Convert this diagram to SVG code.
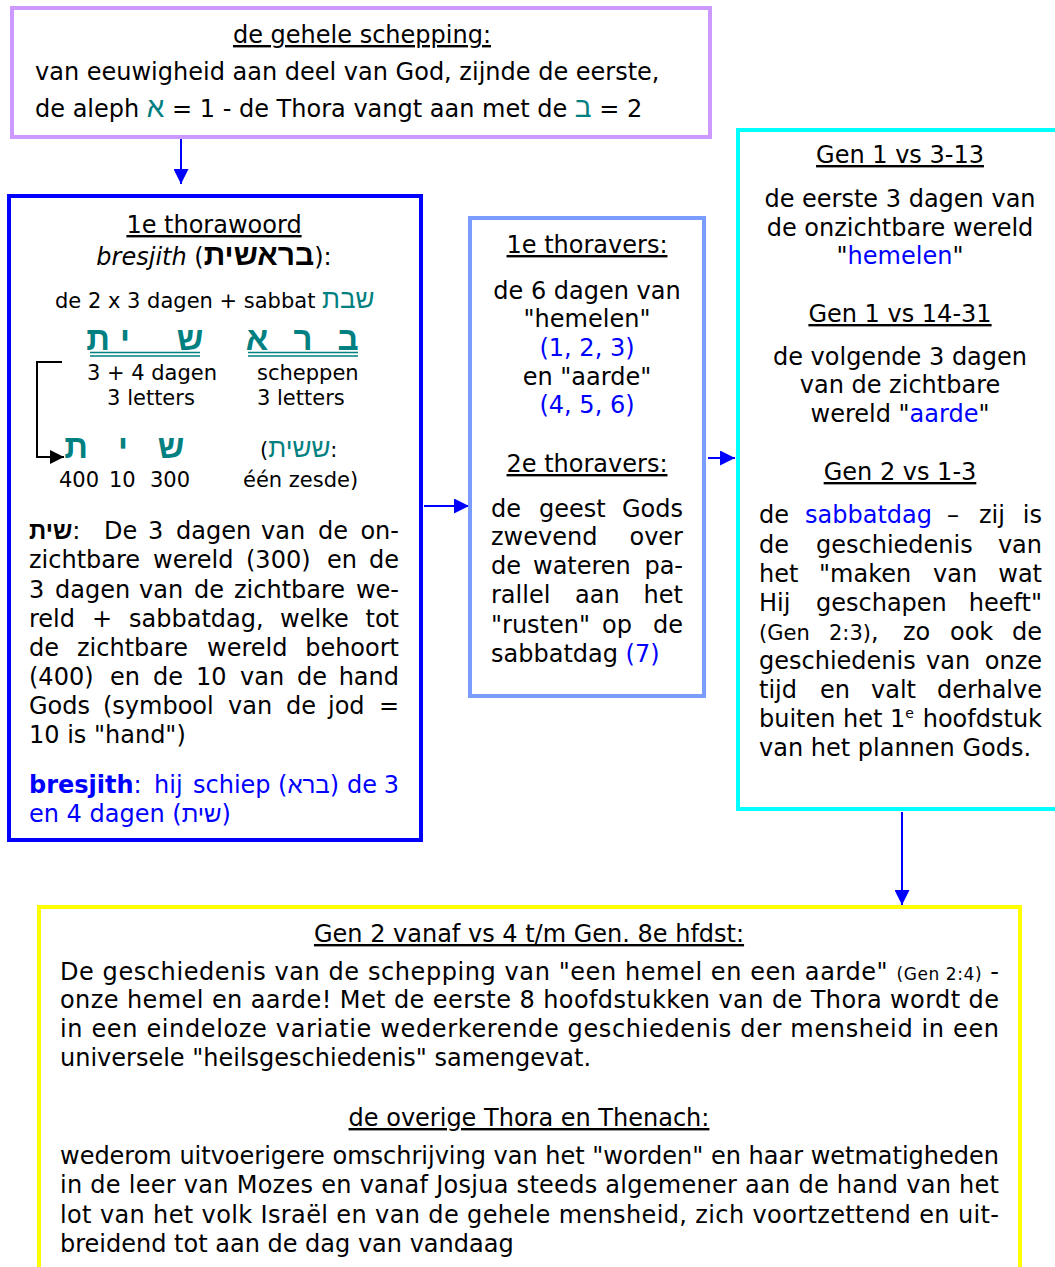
<svg xmlns="http://www.w3.org/2000/svg" width="1055" height="1267" viewBox="0 0 1055 1267">
<defs>
<style>
.t{font-family:"DejaVu Sans",Verdana,sans-serif;font-size:24px;fill:#000}
.s{font-size:21px}
.u{text-decoration:underline}
.b{fill:#0000ff}
.tl{fill:#008080}
.h{font-family:"Liberation Sans","DejaVu Sans",sans-serif}
.c{text-anchor:middle}
.e{text-anchor:end}
.big{font-family:"Liberation Sans","DejaVu Sans",sans-serif;font-size:33px;font-weight:bold;fill:#008080;text-anchor:middle}
.box{fill:#fff;stroke-width:4}
.con{stroke:#0000ff;stroke-width:2;fill:none}
</style>
<marker id="ah" markerUnits="userSpaceOnUse" markerWidth="15" markerHeight="15" refX="15" refY="7.5" orient="auto">
<path d="M0,0 L15,7.5 L0,15 z" fill="#0000ff"/>
</marker>
<marker id="ahk" markerUnits="userSpaceOnUse" markerWidth="14" markerHeight="14" refX="14" refY="7" orient="auto">
<path d="M0,0 L14,7 L0,14 z" fill="#000"/>
</marker>
</defs>
<rect width="1055" height="1267" fill="#fff"/>

<g id="connectors">
<path class="con" d="M181,139 V184" marker-end="url(#ah)"/>
<path class="con" d="M424,506 H469" marker-end="url(#ah)"/>
<path class="con" d="M708,458 H735" marker-end="url(#ah)"/>
<path class="con" d="M902,812 V905" marker-end="url(#ah)"/>
</g>

<g id="node-schepping">
<rect class="box" x="12" y="8" width="698" height="129" stroke="#cc99ff"/>
<text class="t u c" x="362" y="43">de gehele schepping:</text>
<text class="t" x="35" y="80">van eeuwigheid aan deel van God, zijnde de eerste,</text>
<text class="t" x="35" y="117">de aleph <tspan class="tl h" font-size="28">א</tspan>&#x200E; = 1 - de Thora vangt aan met de <tspan class="tl h" font-size="28">ב</tspan>&#x200E; = 2</text>
</g>

<g id="node-thorawoord">
<rect class="box" x="9" y="196" width="412" height="644" stroke="#0000ff"/>
<text class="t u c" x="214" y="233">1e thorawoord</text>
<text class="t c" x="214" y="265" font-size="26"><tspan font-style="italic">bresjith</tspan> (<tspan class="h" font-weight="bold" font-size="30">בראשית</tspan>):</text>
<text class="t s" x="55" y="308">de 2 x 3 dagen + sabbat <tspan class="tl h" font-size="26">שבת</tspan></text>
<text class="t big" x="98" y="350">ת</text>
<text class="t big" x="125" y="350">י</text>
<text class="t big" x="190" y="350">ש</text>
<text class="t big" x="257" y="350">א</text>
<text class="t big" x="303" y="350">ר</text>
<text class="t big" x="348" y="350">ב</text>
<path d="M90,352.5 H200 M90,356 H200 M248,352.5 H358 M248,356 H358" stroke="#008080" stroke-width="1.6" fill="none"/>
<text class="t s c" x="152" y="380">3 + 4 dagen</text>
<text class="t s c" x="151" y="405">3 letters</text>
<text class="t s" x="257" y="380">scheppen</text>
<text class="t s" x="257" y="405">3 letters</text>
<path d="M62,362 H37 V457 H64" stroke="#000" stroke-width="2" fill="none" marker-end="url(#ahk)"/>
<text class="t big" x="76" y="458">ת</text>
<text class="t big" x="123" y="458">י</text>
<text class="t big" x="171" y="458">ש</text>
<text class="t s" x="260" y="457">(<tspan class="tl h" font-size="26">ששית</tspan>:</text>
<text class="t s" x="59" y="487">400</text>
<text class="t s" x="109" y="487">10</text>
<text class="t s" x="150" y="487">300</text>
<text class="t s" x="243" y="487">één zesde)</text>

<text class="t h" x="29" y="539" font-weight="bold" font-size="30">שית<tspan class="t" font-weight="normal">:</tspan></text>
<text class="t" y="539"><tspan x="104">De</tspan><tspan x="148">3</tspan><tspan x="176">dagen</tspan><tspan x="261">van</tspan><tspan x="318">de</tspan></text>
<text class="t e" x="399" y="539">on-</text>
<text class="t" y="568"><tspan x="29">zichtbare</tspan><tspan x="153">wereld</tspan><tspan x="246">(300)</tspan><tspan x="327">en</tspan></text>
<text class="t e" x="399" y="568">de</text>
<text class="t" y="598"><tspan x="29">3</tspan><tspan x="55">dagen</tspan><tspan x="139">van</tspan><tspan x="194">de</tspan><tspan x="234">zichtbare</tspan></text>
<text class="t e" x="399" y="598">we-</text>
<text class="t" y="627"><tspan x="29">reld</tspan><tspan x="92">+</tspan><tspan x="129">sabbatdag,</tspan><tspan x="280">welke</tspan></text>
<text class="t e" x="399" y="627">tot</text>
<text class="t" y="656"><tspan x="29">de</tspan><tspan x="77">zichtbare</tspan><tspan x="207">wereld</tspan></text>
<text class="t e" x="399" y="656">behoort</text>
<text class="t" y="685"><tspan x="29">(400)</tspan><tspan x="110">en</tspan><tspan x="153">de</tspan><tspan x="196">10</tspan><tspan x="240">van</tspan><tspan x="297">de</tspan></text>
<text class="t e" x="399" y="685">hand</text>
<text class="t" y="714"><tspan x="29">Gods</tspan><tspan x="103">(symbool</tspan><tspan x="228">van</tspan><tspan x="286">de</tspan><tspan x="328">jod</tspan></text>
<text class="t e" x="399" y="714">=</text>
<text class="t" x="29" y="743">10 is "hand")</text>

<text class="t b" y="793"><tspan x="29" font-weight="bold">bresjith</tspan><tspan>:</tspan><tspan x="154">hij</tspan><tspan x="193">schiep</tspan></text>
<text class="t b" x="278" y="793">(<tspan class="h" font-size="24">ברא</tspan>)</text>
<text class="t b" x="347" y="793">de</text>
<text class="t b e" x="399" y="793">3</text>
<text class="t b" x="29" y="822">en 4 dagen (<tspan class="h" font-size="24">שית</tspan>)</text>
</g>

<g id="node-thoravers">
<rect class="box" x="470" y="218" width="234" height="478" stroke="#7b9cff"/>
<text class="t u c" x="587" y="253">1e thoravers:</text>
<text class="t c" x="587" y="299">de 6 dagen van</text>
<text class="t c" x="587" y="327">"hemelen"</text>
<text class="t c b" x="587" y="356">(1, 2, 3)</text>
<text class="t c" x="587" y="385">en "aarde"</text>
<text class="t c b" x="587" y="413">(4, 5, 6)</text>
<text class="t u c" x="587" y="472">2e thoravers:</text>
<text class="t" y="517"><tspan x="491">de</tspan><tspan x="539">geest</tspan></text>
<text class="t e" x="683" y="517">Gods</text>
<text class="t" x="491" y="545">zwevend</text>
<text class="t e" x="683" y="545">over</text>
<text class="t" y="574"><tspan x="491">de</tspan><tspan x="533">wateren</tspan></text>
<text class="t e" x="683" y="574">pa-</text>
<text class="t" y="603"><tspan x="491">rallel</tspan><tspan x="575">aan</tspan></text>
<text class="t e" x="683" y="603">het</text>
<text class="t" y="633"><tspan x="491">"rusten"</tspan><tspan x="602">op</tspan></text>
<text class="t e" x="683" y="633">de</text>
<text class="t" x="491" y="662">sabbatdag <tspan class="b">(7)</tspan></text>
</g>

<g id="node-genesis1">
<rect class="box" x="738" y="130" width="330" height="679" stroke="#00ffff"/>
<text class="t u c" x="900" y="163">Gen 1 vs 3-13</text>
<text class="t c" x="900" y="207">de eerste 3 dagen van</text>
<text class="t c" x="900" y="236">de onzichtbare wereld</text>
<text class="t c" x="900" y="264">"<tspan class="b">hemelen</tspan>"</text>
<text class="t u c" x="900" y="322">Gen 1 vs 14-31</text>
<text class="t c" x="900" y="365">de volgende 3 dagen</text>
<text class="t c" x="900" y="393">van de zichtbare</text>
<text class="t c" x="900" y="422">wereld "<tspan class="b">aarde</tspan>"</text>
<text class="t u c" x="900" y="480">Gen 2 vs 1-3</text>
<text class="t" y="523"><tspan x="759">de</tspan><tspan x="805" class="b">sabbatdag</tspan><tspan x="947">–</tspan><tspan x="979">zij</tspan></text>
<text class="t e" x="1042" y="523">is</text>
<text class="t" y="553"><tspan x="759">de</tspan><tspan x="816">geschiedenis</tspan></text>
<text class="t e" x="1042" y="553">van</text>
<text class="t" y="582"><tspan x="759">het</tspan><tspan x="819">"maken</tspan><tspan x="933">van</tspan></text>
<text class="t e" x="1042" y="582">wat</text>
<text class="t" y="611"><tspan x="759">Hij</tspan><tspan x="816">geschapen</tspan></text>
<text class="t e" x="1042" y="611">heeft"</text>
<text class="t" y="640"><tspan x="759" font-size="21">(Gen</tspan><tspan x="829" font-size="21">2:3)</tspan><tspan>,</tspan><tspan x="903">zo</tspan><tspan x="950">ook</tspan></text>
<text class="t e" x="1042" y="640">de</text>
<text class="t" y="669"><tspan x="759">geschiedenis</tspan><tspan x="926">van</tspan></text>
<text class="t e" x="1042" y="669">onze</text>
<text class="t" y="698"><tspan x="759">tijd</tspan><tspan x="820">en</tspan><tspan x="871">valt</tspan></text>
<text class="t e" x="1042" y="698">derhalve</text>
<text class="t" y="727"><tspan x="759">buiten</tspan><tspan x="843">het</tspan><tspan x="890">1</tspan><tspan font-size="14" dy="-9">e</tspan></text>
<text class="t e" x="1042" y="727">hoofdstuk</text>
<text class="t" x="759" y="756">van het plannen Gods.</text>
</g>

<g id="node-geschiedenis">
<rect class="box" x="39" y="907" width="981" height="400" stroke="#ffff00"/>
<text class="t u c" x="529" y="942">Gen 2 vanaf vs 4 t/m Gen. 8e hfdst:</text>
<text class="t" x="60" y="980" textLength="939" lengthAdjust="spacing">De geschiedenis van de schepping van "een hemel en een aarde" <tspan font-size="17">(Gen 2:4)</tspan> -</text>
<text class="t" x="60" y="1008" textLength="939" lengthAdjust="spacing">onze hemel en aarde! Met de eerste 8 hoofdstukken van de Thora wordt de</text>
<text class="t" x="60" y="1037" textLength="939" lengthAdjust="spacing">in een eindeloze variatie wederkerende geschiedenis der mensheid in een</text>
<text class="t" x="60" y="1066">universele "heilsgeschiedenis" samengevat.</text>
<text class="t u c" x="529" y="1126">de overige Thora en Thenach:</text>
<text class="t" x="60" y="1164" textLength="939" lengthAdjust="spacing">wederom uitvoerigere omschrijving van het "worden" en haar wetmatigheden</text>
<text class="t" x="60" y="1193" textLength="939" lengthAdjust="spacing">in de leer van Mozes en vanaf Josjua steeds algemener aan de hand van het</text>
<text class="t" x="60" y="1223" textLength="939" lengthAdjust="spacing">lot van het volk Israël en van de gehele mensheid, zich voortzettend en uit-</text>
<text class="t" x="60" y="1252">breidend tot aan de dag van vandaag</text>
</g>
</svg>
